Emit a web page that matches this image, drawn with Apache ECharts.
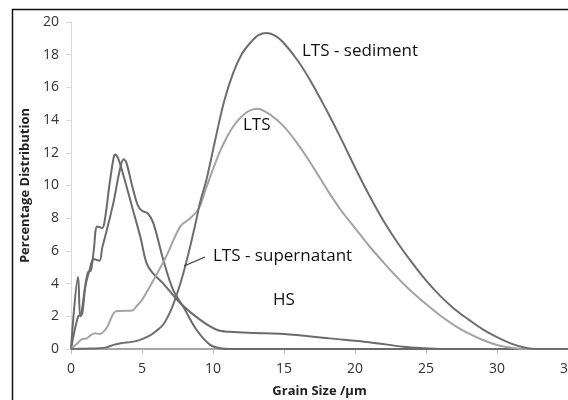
<!DOCTYPE html>
<html>
<head>
<meta charset="utf-8">
<script src="https://cdn.jsdelivr.net/npm/echarts@6/dist/echarts.min.js"></script>
<style>html,body{margin:0;padding:0;background:#fff}#c{width:568px;height:400px}</style>
</head>
<body>
<div id="c"></div>
<script>
// Grain size (µm) and percentage distribution values for each sample
var hsX = [0, 0.5, 0.65, 0.8, 1.0, 1.2, 1.4, 1.6, 1.85, 2.2, 2.4, 2.7, 3.0, 3.1, 3.3, 3.7, 4.3, 4.9, 5.3, 5.7, 6.5, 7.7, 9.1, 10.3, 11.2, 13, 15, 18.2, 21, 23.4, 25, 26, 35];
var hsY = [0, 4.4, 2.0, 2.2, 3.8, 4.7, 4.8, 6.0, 7.5, 7.4, 8.0, 10.0, 11.7, 11.9, 11.7, 10.6, 8.7, 6.8, 5.3, 4.7, 4.0, 2.8, 1.78, 1.16, 1.05, 0.98, 0.92, 0.65, 0.42, 0.14, 0.04, 0, 0];

var supX = [0, 0.5, 0.7, 1.0, 1.3, 1.6, 2.0, 2.2, 2.5, 3.0, 3.4, 3.7, 3.9, 4.3, 4.7, 5.0, 5.4, 5.8, 6.5, 7.2, 7.9, 8.85, 9.8, 10.5, 11.2, 35];
var supY = [0, 2.0, 2.1, 3.8, 4.8, 5.5, 5.4, 6.2, 7.2, 9.0, 10.8, 11.6, 11.4, 10.0, 8.8, 8.45, 8.3, 7.7, 5.45, 3.6, 2.6, 1.16, 0.25, 0.05, 0, 0];

var ltsX = [0, 0.4, 0.75, 1.1, 1.4, 1.7, 2.0, 2.5, 3.1, 3.5, 4.3, 4.6, 5.0, 5.8, 6.7, 7.7, 8.4, 9.0, 9.5, 10, 10.5, 11, 11.5, 12, 12.5, 13.1, 14, 15, 16, 17, 18, 19, 20, 21, 22, 23, 24, 25, 26, 27, 28, 29, 30, 31, 31.8, 35];
var ltsY = [0, 0.3, 0.59, 0.65, 0.85, 0.96, 0.92, 1.27, 2.28, 2.33, 2.35, 2.6, 3.0, 4.2, 5.65, 7.5, 8.0, 8.6, 9.8, 11.0, 12.1, 13.0, 13.7, 14.2, 14.55, 14.7, 14.35, 13.6, 12.5, 11.2, 9.8, 8.5, 7.4, 6.3, 5.3, 4.35, 3.5, 2.75, 2.05, 1.45, 0.95, 0.55, 0.25, 0.07, 0, 0];

var sedX = [0, 1, 2, 2.5, 3, 3.5, 4.4, 5.0, 5.6, 6.0, 6.5, 7.0, 7.44, 7.9, 8.4, 8.8, 9.1, 9.55, 10.26, 10.8, 11.43, 12, 12.6, 13.2, 13.8, 14.4, 15, 16, 17, 18, 19, 20, 21, 22, 23, 24, 25, 26, 27, 28, 29, 30, 31, 32, 32.8, 35];
var sedY = [0, 0.02, 0.05, 0.1, 0.25, 0.35, 0.45, 0.6, 0.85, 1.1, 1.5, 2.3, 3.3, 4.6, 6.3, 7.8, 9.0, 10.4, 13.2, 15.2, 16.9, 18.0, 18.7, 19.2, 19.33, 19.15, 18.7, 17.6, 16.2, 14.6, 12.9, 11.1, 9.4, 7.85, 6.5, 5.3, 4.2, 3.25, 2.45, 1.8, 1.2, 0.72, 0.33, 0.08, 0, 0];

var xTicks = [0, 5, 10, 15, 20, 25, 30, 35];
var yTicks = [0, 2, 4, 6, 8, 10, 12, 14, 16, 18, 20];

function pairs(xs, ys) { return xs.map(function (x, i) { return [x, ys[i]]; }); }

var FONT = '"Open Sans", sans-serif';
var chart = echarts.init(document.getElementById('c'), null, { renderer: 'canvas' });

function mkSeries(name, xs, ys, color) {
  return {
    name: name, type: 'line', data: pairs(xs, ys), showSymbol: false, smooth: 0.35,
    lineStyle: { color: color, width: 2 }, z: 3, animation: false
  };
}

chart.setOption({
  animation: false,
  backgroundColor: '#fff',
  grid: { left: 71, right: 0, top: 22, bottom: 51, containLabel: false, outerBoundsMode: 'none' },
  xAxis: {
    type: 'value', min: xTicks[0], max: xTicks[xTicks.length - 1], interval: 5,
    name: 'Grain Size /µm', nameLocation: 'middle', nameGap: 36,
    nameTextStyle: { fontFamily: FONT, fontWeight: 'bold', fontSize: 13, color: '#222' },
    axisLine: { lineStyle: { color: '#a6a6a6', width: 2 } },
    axisTick: { show: true, length: 5, lineStyle: { color: '#bfbfbf' } },
    axisLabel: { fontFamily: FONT, fontSize: 14, color: '#333', margin: 13, showMaxLabel: true, hideOverlap: false },
    splitLine: { show: false }
  },
  yAxis: {
    type: 'value', min: yTicks[0], max: yTicks[yTicks.length - 1], interval: 2,
    name: 'Percentage Distribution', nameLocation: 'middle', nameGap: 31,
    nameTextStyle: { fontFamily: FONT, fontWeight: 'bold', fontSize: 13, color: '#222' },
    axisLine: { show: true, lineStyle: { color: '#d9d9d9', width: 1 } },
    axisTick: { show: true, length: 5, lineStyle: { color: '#d9d9d9' } },
    axisLabel: { fontFamily: FONT, fontSize: 14, color: '#333', margin: 12 },
    splitLine: { show: false }
  },
  series: [
    mkSeries('HS', hsX, hsY, '#6b6b6b'),
    mkSeries('LTS - supernatant', supX, supY, '#6b6b6b'),
    mkSeries('LTS', ltsX, ltsY, '#a3a3a3'),
    mkSeries('LTS - sediment', sedX, sedY, '#6e6e6e')
  ],
  graphic: [
    { type: 'rect', shape: { x: 12.5, y: 9.5, width: 700, height: 500 }, style: { fill: null, stroke: '#111', lineWidth: 1.5 }, silent: true, z: 10 },
    { type: 'text', x: 302, y: 51, style: { text: 'LTS - sediment', font: '17px ' + FONT, fill: '#111', textVerticalAlign: 'middle' }, z: 10 },
    { type: 'text', x: 243, y: 125, style: { text: 'LTS', font: '17px ' + FONT, fill: '#111', textVerticalAlign: 'middle' }, z: 10 },
    { type: 'text', x: 213, y: 256, style: { text: 'LTS - supernatant', font: '17px ' + FONT, fill: '#111', textVerticalAlign: 'middle' }, z: 10 },
    { type: 'text', x: 273, y: 300, style: { text: 'HS', font: '17px ' + FONT, fill: '#111', textVerticalAlign: 'middle' }, z: 10 },
    { type: 'line', shape: { x1: 184, y1: 266, x2: 205, y2: 257 }, style: { stroke: '#333', lineWidth: 1.2 }, z: 10 }
  ]
});
</script>
</body>
</html>
